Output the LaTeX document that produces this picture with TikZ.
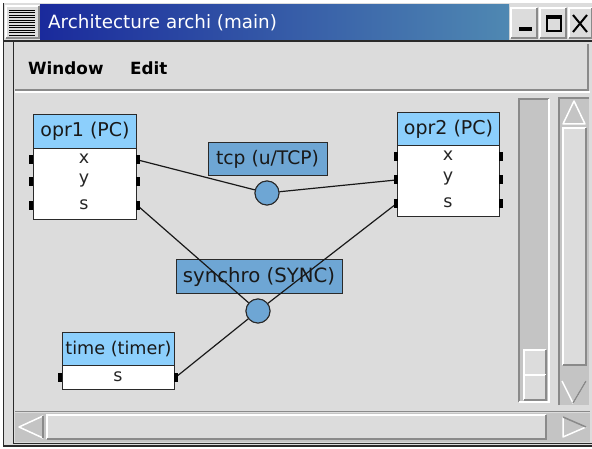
\documentclass[tikz,border=0pt]{standalone}
\usepackage{fontspec}
\setmainfont{DejaVu Sans}
\definecolor{winbg}{HTML}{DCDCDC}
\definecolor{shadowgray}{HTML}{8A8A8A}
\definecolor{troughgray}{HTML}{C4C4C4}
\definecolor{framedark}{HTML}{2A2A2A}
\definecolor{hdrblue}{HTML}{8CCFFC}
\definecolor{linkblue}{HTML}{6EA6D4}
\definecolor{titleL}{HTML}{1A2A9C}
\definecolor{titleR}{HTML}{4F88B2}
\newcommand{\bevelup}[4]{%
  \fill[winbg] (#1,#2) rectangle (#3,#4);
  \draw[white,line width=1.5] (#1,#4) -- (#1,#2) -- (#3,#2);
  \draw[shadowgray,line width=1.5] (#1,#4) -- (#3,#4) -- (#3,#2);}
\newcommand{\bevelin}[5]{%
  \fill[#5] (#1,#2) rectangle (#3,#4);
  \draw[shadowgray,line width=1.5] (#1,#4) -- (#1,#2) -- (#3,#2);
  \draw[white,line width=1.5] (#1,#4) -- (#3,#4) -- (#3,#2);}
\newcommand{\fsz}[1]{\fontsize{#1}{#1}\selectfont}
\tikzset{
  hdr/.style={draw=framedark, fill=hdrblue, line width=1, anchor=north west,
    inner sep=0, font=\fsz{19}, text=black!90},
  bodybox/.style={draw=framedark, fill=white, line width=1, anchor=north west, inner sep=0},
  portlbl/.style={inner sep=0, font=\fsz{17.5}, text=black!85},
  portpin/.style={fill=black, minimum width=4, minimum height=9, inner sep=0},
  linklbl/.style={draw=framedark, fill=linkblue, line width=1, inner sep=0,
    font=\fsz{18.7}, text=black!90},
  linkdot/.style={circle, draw=framedark, fill=linkblue, line width=1,
    minimum size=24, inner sep=0},
  wire/.style={black!90, line width=1.2},
  arrowglyph/.style={white, line width=1.5, line join=round},
}
\begin{document}
\begin{tikzpicture}[x=1pt,y=-1pt]
\useasboundingbox (0,0) rectangle (592,449);
% window frame
\fill[white] (0,0) rectangle (592,449);
\fill[winbg] (3,3) rectangle (591.5,446);
\draw[framedark,line width=1.2] (3.5,3.5) -- (3.5,446) -- (591.5,446);
% title bar
\shade[left color=titleL,right color=titleR] (40,5) rectangle (509,40);
\node[anchor=west, inner sep=0, text=white, font=\fsz{18.3}]
  (title) at (48,23) {Architecture archi (main)};
\draw[framedark,line width=1.2] (3.5,41) -- (591.5,41);
% window menu icon
\bevelup{6}{6}{39}{38}
\foreach \yy in {10,12.5,...,36} \draw[black,line width=0.9] (9,\yy) -- (35,\yy);
% title buttons
\bevelup{511}{8}{537}{38}
\bevelup{540}{8}{566}{38}
\bevelup{569}{8}{592}{38}
\fill[black] (519,27.5) rectangle (532,31.5);
\draw[black,line width=1.5] (547,15.5) rectangle (561,31);
\fill[black] (547,15) rectangle (561,19);
\draw[black,line width=2] (573,15) -- (587,32) (587,15) -- (573,32);
% client frame and menu bar
\draw[framedark,line width=1.2] (13.5,41) -- (13.5,443.5) -- (591.5,443.5);
\draw[shadowgray,line width=1.2] (15,90) -- (588,90) -- (588,44);
\draw[white,line width=1.2] (15,92) -- (590,92);
\node[anchor=west, inner sep=0, font=\bfseries\fsz{16.8}]
  (menuwin) at (28,68) {Window};
\node[anchor=west, inner sep=0, font=\bfseries\fsz{16.8}]
  (menuedit) at (130,68) {Edit};
% vertical scroll column (left)
\bevelin{519}{99}{549}{402}{troughgray}
\bevelup{524}{350}{546}{375}
\bevelup{524}{375}{546}{400}
% vertical scroll column (right)
\fill[troughgray] (559,98) rectangle (589,405);
\draw[shadowgray,line width=1.5] (559,405) -- (559,98) -- (589,98);
\draw[arrowglyph] (563,124) -- (574,101) -- (585,124) -- cycle;
\bevelup{563}{128}{586}{365}
\draw[arrowglyph] (562,381) -- (573,403) -- (586,381);
\draw[shadowgray,line width=1.5] (573,403) -- (586,381);
% horizontal scroll bar
\draw[shadowgray,line width=1.5] (15,411.5) -- (590,411.5);
\fill[troughgray] (15,413) rectangle (590,442);
\draw[arrowglyph] (43,416) -- (19,427) -- (43,438);
\draw[shadowgray,line width=1.5] (43,416) -- (43,438);
\bevelup{47}{415}{546}{439}
\draw[arrowglyph] (563,417) -- (563,437) -- (586,427);
\draw[shadowgray,line width=1.5] (563,417) -- (586,427);

% ---- component boxes ----
\node[hdr, minimum width=103, minimum height=34] (opr1) at (33,114) {opr1 (PC)};
\node[bodybox, minimum width=103, minimum height=71] (opr1b) at (33,148) {};
\node[portlbl] (opr1x) at (84,159) {x};
\node[portlbl] (opr1y) at (84,181) {y};
\node[portlbl] (opr1s) at (84,205) {s};

\node[hdr, minimum width=102, minimum height=33] (opr2) at (397,112) {opr2 (PC)};
\node[bodybox, minimum width=102, minimum height=71] (opr2b) at (397,145) {};
\node[portlbl] (opr2x) at (448,156) {x};
\node[portlbl] (opr2y) at (448,179) {y};
\node[portlbl] (opr2s) at (448,203) {s};

\node[hdr, minimum width=112, minimum height=33, font=\fsz{17.6}] (timer) at (62,332) {time (timer)};
\node[bodybox, minimum width=112, minimum height=24] (timerb) at (62,365) {};
\node[portlbl] (timers) at (118,377) {s};

% ---- link labels ----
\node[linklbl, minimum width=119, minimum height=33] (tcp) at (267.5,159.5) {tcp (u/TCP)};
\node[linklbl, minimum width=166, minimum height=34, font=\fsz{19.7}] (sync) at (259,277) {synchro (SYNC)};

% ---- ports ----
\coordinate (p1xl) at (31,160);  \coordinate (p1xr) at (138,160);
\coordinate (p1yl) at (31,182);  \coordinate (p1yr) at (138,182);
\coordinate (p1sl) at (31,206);  \coordinate (p1sr) at (138,206);
\coordinate (p2xl) at (396,157); \coordinate (p2xr) at (501,157);
\coordinate (p2yl) at (396,180); \coordinate (p2yr) at (501,180);
\coordinate (p2sl) at (396,204); \coordinate (p2sr) at (501,204);
\coordinate (ptsl) at (60,377);  \coordinate (ptsr) at (176,377);

% ---- link points ----
\node[linkdot] (tcpdot) at (267,193) {};
\node[linkdot] (syncdot) at (258,311) {};

% ---- wires ----
\draw[wire] (p1xr) -- (tcpdot);
\draw[wire] (tcpdot) -- (p2yl);
\draw[wire] (p1sr) -- (syncdot);
\draw[wire] (p2sl) -- (syncdot);
\draw[wire] (syncdot) -- (ptsr);
\node[linkdot] at (tcpdot) {};
\node[linkdot] at (syncdot) {};

% ---- port pins ----
\foreach \p in {p1xl,p1xr,p1yl,p1yr,p1sl,p1sr,p2xl,p2xr,p2yl,p2yr,p2sl,p2sr,ptsl,ptsr}
  \node[portpin] (\p pin) at (\p) {};
\end{tikzpicture}
\end{document}
